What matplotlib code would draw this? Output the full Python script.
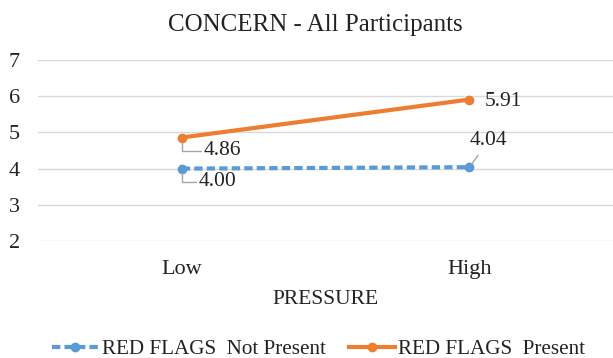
import matplotlib.pyplot as plt

plt.rcParams['font.family'] = ['Liberation Serif', 'DejaVu Serif']

categories = ["Low", "High"]
not_present = [4.00, 4.04]
present = [4.86, 5.91]
series_names = ["RED FLAGS  Not Present", "RED FLAGS  Present"]

blue = "#5B9BD5"
orange = "#ED7D31"

fig = plt.figure(figsize=(6.13, 3.58), dpi=100)
ax = fig.add_axes([0.062, 0.327, 0.938, 0.505])

x = list(range(1, len(categories) + 1))
ax.plot(x, not_present, color=blue, lw=3, ls=(0, (2, 1)), marker="o",
        ms=6, label=series_names[0])
ax.plot(x, present, color=orange, lw=3, marker="o", ms=6,
        label=series_names[1])

ax.set_xlim(0.5, 2.5)
ax.set_ylim(2, 7)
ax.set_yticks(range(2, 8))
ax.set_xticks(x)
ax.set_xticklabels(categories)
ax.grid(axis="y", color="#D9D9D9", lw=1)
ax.set_axisbelow(True)
for s in ax.spines.values():
    s.set_visible(False)
ax.tick_params(length=0, labelsize=16, colors="#222222")
ax.tick_params(axis="y", pad=13)
ax.tick_params(axis="x", pad=14)
ax.set_xlabel("PRESSURE", fontsize=15.5, labelpad=8, color="#222222")
fig.text(0.515, 1 - 25 / 358, "CONCERN - All Participants", fontsize=18,
         ha="center", va="center", color="#222222")

lbl = dict(textcoords="offset points", fontsize=15.5, color="#222222")
lead = dict(arrowstyle="-", color="#A6A6A6", lw=1, shrinkA=0, shrinkB=3)
ax.annotate(f"{present[0]:.2f}", xy=(x[0], present[0]), xytext=(16, -9.5),
            va="center", **lbl,
            arrowprops=dict(lead, connectionstyle="angle,angleA=0,angleB=-90,rad=0"))
ax.annotate(f"{not_present[0]:.2f}", xy=(x[0], not_present[0]), xytext=(12, -9.5),
            va="center", **lbl,
            arrowprops=dict(lead, connectionstyle="angle,angleA=0,angleB=-90,rad=0"))
ax.annotate(f"{not_present[1]:.2f}", xy=(x[1], not_present[1]), xytext=(14, 19),
            ha="center", va="center", **lbl,
            arrowprops=dict(lead, shrinkA=2))
ax.annotate(f"{present[1]:.2f}", xy=(x[1], present[1]), xytext=(11, -1.5),
            va="center", **lbl)

fig.legend(loc="center", bbox_to_anchor=(0.52, 1 - 349 / 358), ncol=2, frameon=False,
           fontsize=15.2, handlelength=2.2, handletextpad=0.15, columnspacing=1.1,
           labelcolor="#222222")

fig.savefig("out.png", dpi=100)
